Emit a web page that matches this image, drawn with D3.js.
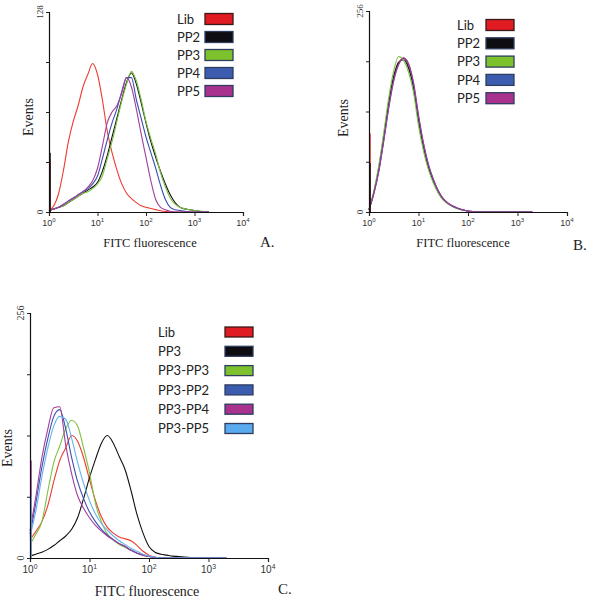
<!DOCTYPE html>
<html><head><meta charset="utf-8">
<script src="https://cdn.jsdelivr.net/npm/d3@7"></script>
<style>body{margin:0;background:#fff} svg{display:block}</style>
</head><body>
<svg id="c" width="591" height="601"></svg>
<script>
// log10 positions of the fluorescence channels
const gridLog = [0,0.1,0.2,0.3,0.4,0.5,0.6,0.7,0.8,0.9,1.0,1.1,1.2,1.3,1.4,1.5,1.6,1.7,1.8,1.9,2.0,2.1,2.2,2.3,2.4,2.5,2.6,2.7,2.8,2.9,3.0,3.1,3.2,3.3];
const xTickBase = "10";
const xTickExponents = ["0","1","2","3","4"];
const xTickValues = [1,10,100,1000,10000];

// Panel A
const namesA = ["Lib","PP2","PP3","PP4","PP5"];
const A_Lib = [1,4,12,27,45,58,68,80,88,95, 88,72,52,38,27,18,12,8.5,6,4, 3,2.2,1.5,0.8,0.3,0,0,0,0,0, 0,0,0,0];
const A_PP2 = [1,2,3,4,6,8,10,12,14,16, 19,26,36,48,60,72,83,89,82,70, 57,45,35,26,18,11,6,3,2,1.5, 1,0.5,0,0];
const A_PP3 = [1,2,3,4,6,8,10,12,13,15, 18,23,34,45,58,71,82,90,84,72, 58,47,37,25,16,9,5,3,2,1.5, 1,0.6,0.3,0];
const A_PP4 = [1,2,3,5,7,9,11,13,15,18, 23,34,46,57,66,77,86,86,72,60, 48,38,28,17,8,3,1.5,1,0.5,0, 0,0,0,0];
const A_PP5 = [1,2,3,5,7,9,11,13,16,20, 28,42,57,64,68,76,86,80,66,50, 35,20,8,3,1.5,0.5,0,0,0,0, 0,0,0,0];
const spikeA = [33,38,0,0,0];

// Panel B
const namesB = ["Lib","PP2","PP3","PP4","PP5"];
const B_Lib = [3,25,55,95,138,172,190,196,185,160, 118,84,58,40,26,16,11,7,4.5,2.5, 1,0.5,0,0,0,0,0,0,0,0, 0,0,0,0];
const B_PP2 = [3,26,57,97,140,173,191,194,183,158, 117,83,57,39,25,16,11,7,4.5,2.5, 1.2,0.5,0,0,0,0,0,0,0,0, 0,0,0,0];
const B_PP3 = [3,27,60,102,146,180,198,193,178,152, 110,78,54,37,24,15,10,6.5,4,2.2, 1,0.4,0,0,0,0,0,0,0,0, 0,0,0,0];
const B_PP4 = [3,24,53,92,134,168,188,196,188,163, 122,87,60,41,27,17,11,7,4.5,2.5, 1.2,0.5,0,0,0,0,0,0,0,0, 0,0,0,0];
const B_PP5 = [3,24,52,91,133,167,188,196,189,165, 124,88,61,42,27,17,11,7.5,4.8,2.8, 1.3,0.6,0,0,0,0,0,0,0,0, 0,0,0,0];
const spikeB = [100,62,0,0,0];

// Panel C
const namesC = ["Lib","PP3","PP3-PP3","PP3-PP2","PP3-PP4","PP3-PP5"];
const C_Lib    = [19,28,38,55,80,102,115,128,122,105, 82,60,43,32,26,22,20,18,13,7, 3,1,0,0,0,0,0,0,0,0, 0,0,0,0];
const C_PP3    = [2,4,6,9,13,18,23,30,42,62, 84,103,120,128,120,106,92,70,45,26, 12,6,4,3,2,1.5,1,0.5,0,0, 0,0,0,0];
const C_PP3PP3 = [14,25,38,70,100,117,135,144,138,115, 89,57,38,25,19,14,11,8,5,3, 1.5,0.5,0,0,0,0,0,0,0,0, 0,0,0,0];
const C_PP3PP2 = [25,58,95,125,148,155,135,105,80,62, 48,38,30,24,19,15,12,8,5,3, 1.5,0.5,0,0,0,0,0,0,0,0, 0,0,0,0];
const C_PP3PP4 = [28,65,105,135,157,158,118,88,65,52, 42,34,28,23,19,15,12,8,5,3, 1.5,0.5,0,0,0,0,0,0,0,0, 0,0,0,0];
const C_PP3PP5 = [22,50,85,115,138,148,145,125,100,78, 60,46,36,29,23,18,14,10,7,4, 2,1,0,0,0,0,0,0,0,0, 0,0,0,0];
const spikeC = [0,0,0,0,102,64];

const lineColors5 = ["#ee3a2c","#111111","#7cc242","#3b4fb0","#a23d9c"];
const swatch5 = ["#e01b22","#0d0d12","#7dc22c","#3c5cb0","#a8328e"];
const lineColors6 = ["#ee3a2c","#111111","#7cc242","#3b4fb0","#a23d9c","#63b3ee"];
const swatch6 = ["#e01b22","#0d0d12","#7dc22c","#3c5cb0","#a8328e","#5aaaf0"];

const panels = [
  {ymax:128, series:[A_Lib,A_PP2,A_PP3,A_PP4,A_PP5], names:namesA, spikes:spikeA, lc:lineColors5, sc:swatch5,
   x0:49, x1:243, yT:12, yB:212, tickFont:9, lab:{fx:150, fy:247, fs:12.5, ex:33, ey:117, letter:"A.", lx:260, ly:247},
   leg:{tx:177, sx:205, y0:19, dy:18, w:28, h:11}},
  {ymax:256, series:[B_Lib,B_PP2,B_PP3,B_PP4,B_PP5], names:namesB, spikes:spikeB, lc:lineColors5, sc:swatch5,
   x0:369, x1:567, yT:11, yB:212, tickFont:9, lab:{fx:463, fy:247, fs:12.5, ex:348, ey:118, letter:"B.", lx:573, ly:250},
   leg:{tx:457, sx:486, y0:25, dy:18.3, w:28, h:11}},
  {ymax:256, series:[C_Lib,C_PP3,C_PP3PP3,C_PP3PP2,C_PP3PP4,C_PP3PP5], names:namesC, spikes:spikeC, lc:lineColors6, sc:swatch6,
   x0:30, x1:268, yT:313, yB:558, tickFont:10, lab:{fx:147, fy:596, fs:14, ex:12, ey:448, letter:"C.", lx:278, ly:594},
   leg:{tx:158, sx:225, y0:332, dy:19.3, w:28, h:10}}
];

const svg = d3.select("#c");
svg.append("rect").attr("width",591).attr("height",601).attr("fill","#fff");

panels.forEach(p => {
  const x = d3.scaleLog().domain([1,10000]).range([p.x0,p.x1]);
  const y = d3.scaleLinear().domain([0,p.ymax]).range([p.yB,p.yT]);
  const g = svg.append("g");

  // curves
  const line = d3.line().x(d=>x(Math.pow(10,d[0]))).y(d=>y(d[1])).curve(d3.curveMonotoneX);
  p.series.forEach((s,i) => {
    const pts = gridLog.map((l,k)=>[l,s[k]]);
    g.append("path").attr("d",line(pts)).attr("fill","none")
      .attr("stroke",p.lc[i]).attr("stroke-width",1.1).attr("stroke-linejoin","round");
  });
  // channel-1 spikes
  p.spikes.forEach((v,i) => {
    if (v>0) g.append("line").attr("x1",x(1)+1).attr("x2",x(1)+1).attr("y1",y(0)).attr("y2",y(v))
      .attr("stroke",p.lc[i]).attr("stroke-width",1.5);
  });

  // x axis: minor ticks
  const minors = [];
  [1,10,100,1000].forEach(d => { for (let m=2;m<10;m++) minors.push(d*m); });
  const gx = g.append("g").attr("transform",`translate(0,${p.yB})`);
  gx.call(d3.axisBottom(x).tickValues(minors).tickSize(2).tickFormat(""));
  gx.call(d3.axisBottom(x).tickValues(xTickValues).tickSize(4).tickFormat(""));
  gx.selectAll("path.domain").attr("stroke","#111").attr("stroke-width",1.2);
  gx.selectAll(".tick line").attr("stroke","#222");
  xTickValues.forEach((v,i) => {
    const t = g.append("text").attr("x",x(v)).attr("y",p.yB+5+p.tickFont)
      .attr("text-anchor","middle").attr("font-family","Liberation Sans, sans-serif")
      .attr("font-size",p.tickFont).attr("fill","#333");
    t.append("tspan").text(xTickBase);
    t.append("tspan").attr("dy",-p.tickFont*0.4).attr("font-size",p.tickFont*0.68).text(xTickExponents[i]);
  });

  // y axis
  const yt = [0,p.ymax/4,p.ymax/2,3*p.ymax/4,p.ymax];
  const gy = g.append("g").attr("transform",`translate(${p.x0},0)`);
  gy.call(d3.axisLeft(y).tickValues(yt).tickSize(3).tickFormat(""));
  gy.selectAll("path.domain").attr("stroke","#111").attr("stroke-width",1.2);
  gy.selectAll(".tick line").attr("stroke","#222");
  [0,p.ymax].forEach(v => {
    g.append("text").attr("transform",`translate(${p.x0-6},${y(v)}) rotate(-90)`)
      .attr("text-anchor","middle").attr("font-family","Liberation Serif, serif").attr("font-size",p.tickFont)
      .attr("fill","#333").text(v);
  });

  // labels
  g.append("text").attr("x",p.lab.fx).attr("y",p.lab.fy).attr("text-anchor","middle")
    .attr("font-family","Liberation Serif, serif").attr("font-size",p.lab.fs).attr("fill","#222").text("FITC fluorescence");
  g.append("text").attr("transform",`translate(${p.lab.ex},${p.lab.ey}) rotate(-90)`).attr("text-anchor","middle")
    .attr("font-family","Liberation Serif, serif").attr("font-size",14).attr("fill","#222").text("Events");
  g.append("text").attr("x",p.lab.lx).attr("y",p.lab.ly)
    .attr("font-family","Liberation Serif, serif").attr("font-size",15).attr("fill","#222").text(p.lab.letter);

  // legend
  p.names.forEach((n,i) => {
    const cy = p.leg.y0 + i*p.leg.dy;
    g.append("text").attr("x",p.leg.tx).attr("y",cy).attr("dy","0.36em")
      .attr("font-family","Lato, sans-serif").attr("font-size",13).attr("fill","#222").text(n);
    g.append("rect").attr("x",p.leg.sx).attr("y",cy-p.leg.h/2).attr("width",p.leg.w).attr("height",p.leg.h)
      .attr("fill",p.sc[i]).attr("stroke",i===0?"#3a1a1a":"#2e3d60").attr("stroke-width",1.3);
  });
});
</script>
</body></html>
